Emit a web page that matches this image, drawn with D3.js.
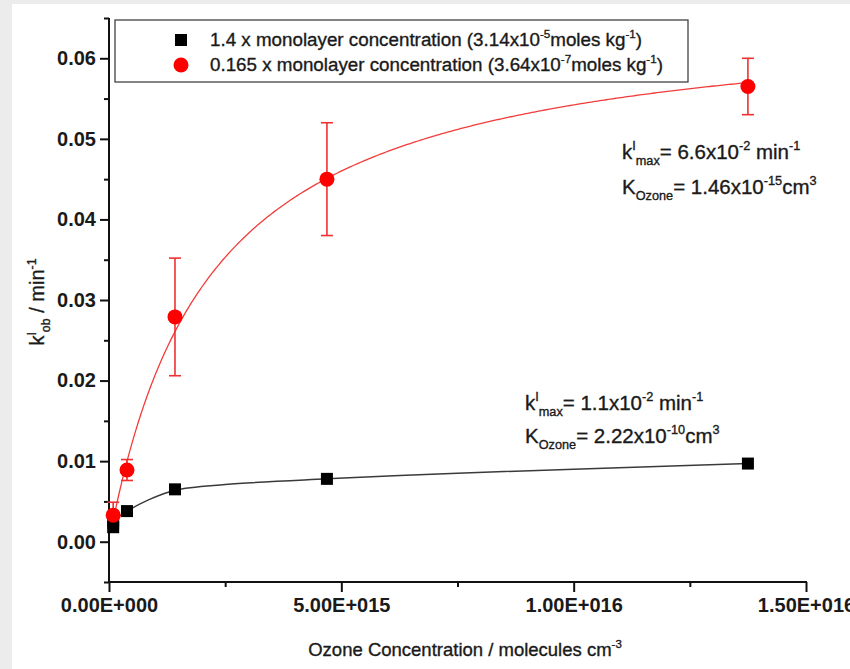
<!DOCTYPE html>
<html>
<head>
<meta charset="utf-8">
<script src="https://cdn.jsdelivr.net/npm/d3@7"></script>
<style>
  body { margin: 0; background: #ececec; }
  svg text { font-family: "Liberation Sans", Arial, Helvetica, sans-serif; fill: #1a1a1a; }
  svg text.heavy { stroke: #1a1a1a; stroke-width: 0.35px; }
</style>
</head>
<body>
<svg id="chart" width="850" height="669"></svg>
<script>
// 1.4 x monolayer coverage (black squares)
const monoX = [0.9e14, 0.9e14, 3.87e14, 1.42e15, 4.69e15, 1.375e16];
const monoY = [0.0018, 0.0026, 0.0038, 0.0065, 0.0078, 0.0097];
// Fitted curve through the 1.4 x monolayer data
const monoFitX = [0.9e14, 3.87e14, 8.5e14, 1.42e15, 2.5e15, 4.69e15, 7.5e15, 1.0e16, 1.375e16];
const monoFitY = [0.0026, 0.0038, 0.0052, 0.0064, 0.0071, 0.0078, 0.0085, 0.0090, 0.0097];
// 0.165 x monolayer coverage (red circles, with error bars)
const subX = [0.9e14, 3.87e14, 1.42e15, 4.69e15, 1.375e16];
const subY = [0.0033, 0.0089, 0.0279, 0.0450, 0.0565];
const subErr = [0.0016, 0.0013, 0.0073, 0.0070, 0.0035];
// Langmuir-Hinshelwood fit for the red series: k = kmax*K*x / (1 + K*x)
const subFit = [0.066, 4.6e-16];
// Axis ticks
const yMajor = [0, 0.01, 0.02, 0.03, 0.04, 0.05, 0.06];
const yMinor = [-0.005, 0.005, 0.015, 0.025, 0.035, 0.045, 0.055, 0.065];
const xMajor = [0, 5e15, 1e16, 1.5e16];
const xMinor = [2.5e15, 7.5e15, 1.25e16];

const svg = d3.select("#chart");
svg.append("rect").attr("x", 12).attr("y", 4).attr("width", 838).attr("height", 665).attr("fill", "#fff");

const x = d3.scaleLinear().domain([0, 1.5e16]).range([109, 806]);
const y = d3.scaleLinear().domain([-0.005, 0.065]).range([582, 18]);

const sciFmt = v => {
  if (v === 0) return "0.00E+000";
  const e = Math.floor(Math.log10(v));
  const m = v / Math.pow(10, e);
  return m.toFixed(2) + "E+" + String(e).padStart(3, "0");
};

// Y axis
const gy = svg.append("g").attr("transform", `translate(${x(0)},0)`);
gy.call(d3.axisLeft(y).tickValues(yMajor).tickSize(9).tickPadding(4).tickFormat(d3.format(".2f")));
gy.append("g").call(d3.axisLeft(y).tickValues(yMinor).tickSize(5).tickFormat(""));
gy.selectAll(".domain").remove();
gy.selectAll("line").attr("stroke", "#111").attr("stroke-width", 2);
gy.selectAll("text").attr("font-size", 20).attr("font-weight", "bold").attr("fill", "#1a1a1a");

// X axis
const gx = svg.append("g").attr("transform", `translate(0,${y(-0.005)})`);
gx.call(d3.axisBottom(x).tickValues(xMajor).tickSize(10).tickPadding(6).tickFormat(sciFmt));
gx.append("g").call(d3.axisBottom(x).tickValues(xMinor).tickSize(5).tickFormat(""));
gx.selectAll(".domain").remove();
gx.selectAll("line").attr("stroke", "#111").attr("stroke-width", 2);
gx.selectAll("text").attr("font-size", 20).attr("font-weight", "bold").attr("fill", "#1a1a1a");

// Axis lines
svg.append("line").attr("x1", x(0)).attr("x2", x(0)).attr("y1", y(0.065)).attr("y2", y(-0.005))
  .attr("stroke", "#111").attr("stroke-width", 2);
svg.append("line").attr("x1", x(0) - 1).attr("x2", x(1.5e16) + 1).attr("y1", y(-0.005)).attr("y2", y(-0.005))
  .attr("stroke", "#111").attr("stroke-width", 2);

// Fit curves
const monoPts = monoFitX.map((d, i) => [d, monoFitY[i]]);
svg.append("path")
  .attr("d", d3.line().x(d => x(d[0])).y(d => y(d[1])).curve(d3.curveCatmullRom.alpha(0.5))(monoPts))
  .attr("fill", "none").attr("stroke", "#3a3a3a").attr("stroke-width", 1.5);

const x0 = d3.min(subX), x1 = d3.max(subX);
const subPts = d3.range(0, 301).map(i => {
  const xv = x0 + (x1 - x0) * i / 300;
  return [xv, subFit[0] * subFit[1] * xv / (1 + subFit[1] * xv)];
});
svg.append("path").attr("d", d3.line().x(d => x(d[0])).y(d => y(d[1]))(subPts))
  .attr("fill", "none").attr("stroke", "#f23c3c").attr("stroke-width", 1.3);

// Error bars
const eb = svg.append("g").attr("stroke", "#f03030").attr("stroke-width", 1.6);
subX.forEach((xv, i) => {
  const top = y(subY[i] + subErr[i]), bot = y(subY[i] - subErr[i]), cx = x(xv);
  eb.append("line").attr("x1", cx).attr("x2", cx).attr("y1", top).attr("y2", bot);
  eb.append("line").attr("x1", cx - 6).attr("x2", cx + 6).attr("y1", top).attr("y2", top);
  eb.append("line").attr("x1", cx - 6).attr("x2", cx + 6).attr("y1", bot).attr("y2", bot);
});

// Markers
svg.append("g").selectAll("rect").data(monoX).join("rect")
  .attr("x", d => x(d) - 6).attr("y", (d, i) => y(monoY[i]) - 6)
  .attr("width", 12).attr("height", 12).attr("fill", "#000");
svg.append("g").selectAll("circle").data(subX).join("circle")
  .attr("cx", d => x(d)).attr("cy", (d, i) => y(subY[i])).attr("r", 7.5).attr("fill", "#ff0000");

// Rich text helper: parts are [text, "n"|"sup"|"sub"]
function rich(g, xPos, yPos, parts, size) {
  const t = g.append("text").attr("class", "heavy").attr("x", xPos).attr("y", yPos).attr("font-size", size);
  let shift = 0;
  parts.forEach(([s, kind]) => {
    const target = kind === "sup" ? -0.42 * size : kind === "sub" ? 0.3 * size : 0;
    const ts = t.append("tspan").text(s).attr("dy", target - shift);
    if (kind !== "n") ts.attr("font-size", size * 0.62);
    shift = target;
  });
  return t;
}

// Legend
svg.append("rect").attr("x", 115).attr("y", 20).attr("width", 573).attr("height", 62)
  .attr("fill", "#fff").attr("stroke", "#333").attr("stroke-width", 1.2);
svg.append("rect").attr("x", 175).attr("y", 34).attr("width", 12).attr("height", 12).attr("fill", "#000");
svg.append("circle").attr("cx", 181).attr("cy", 65).attr("r", 7.5).attr("fill", "#ff0000");
rich(svg, 210, 46, [["1.4 x monolayer concentration (3.14x10", "n"], ["-5", "sup"], ["moles kg", "n"], ["-1", "sup"], [")", "n"]], 18.8);
rich(svg, 210, 71, [["0.165 x monolayer concentration (3.64x10", "n"], ["-7", "sup"], ["moles kg", "n"], ["-1", "sup"], [")", "n"]], 18.8);

// Fit parameter annotations
rich(svg, 622, 159, [["k", "n"], ["I", "sup"], ["max", "sub"], ["= 6.6x10", "n"], ["-2", "sup"], [" min", "n"], ["-1", "sup"]], 20.5);
rich(svg, 622, 194, [["K", "n"], ["Ozone", "sub"], ["= 1.46x10", "n"], ["-15", "sup"], ["cm", "n"], ["3", "sup"]], 20.5);
rich(svg, 525, 410, [["k", "n"], ["I", "sup"], ["max", "sub"], ["= 1.1x10", "n"], ["-2", "sup"], [" min", "n"], ["-1", "sup"]], 20.5);
rich(svg, 525, 443, [["K", "n"], ["Ozone", "sub"], ["= 2.22x10", "n"], ["-10", "sup"], ["cm", "n"], ["3", "sup"]], 20.5);

// Axis titles
rich(svg, 0, 0, [["Ozone Concentration / molecules cm", "n"], ["-3", "sup"]], 18.5)
  .attr("text-anchor", "middle").attr("transform", "translate(465,656)");
rich(svg, 0, 0, [["k", "n"], ["I", "sup"], ["ob", "sub"], [" / min", "n"], ["-1", "sup"]], 20)
  .attr("text-anchor", "middle").attr("transform", "translate(44,302) rotate(-90)");
</script>
</body>
</html>
